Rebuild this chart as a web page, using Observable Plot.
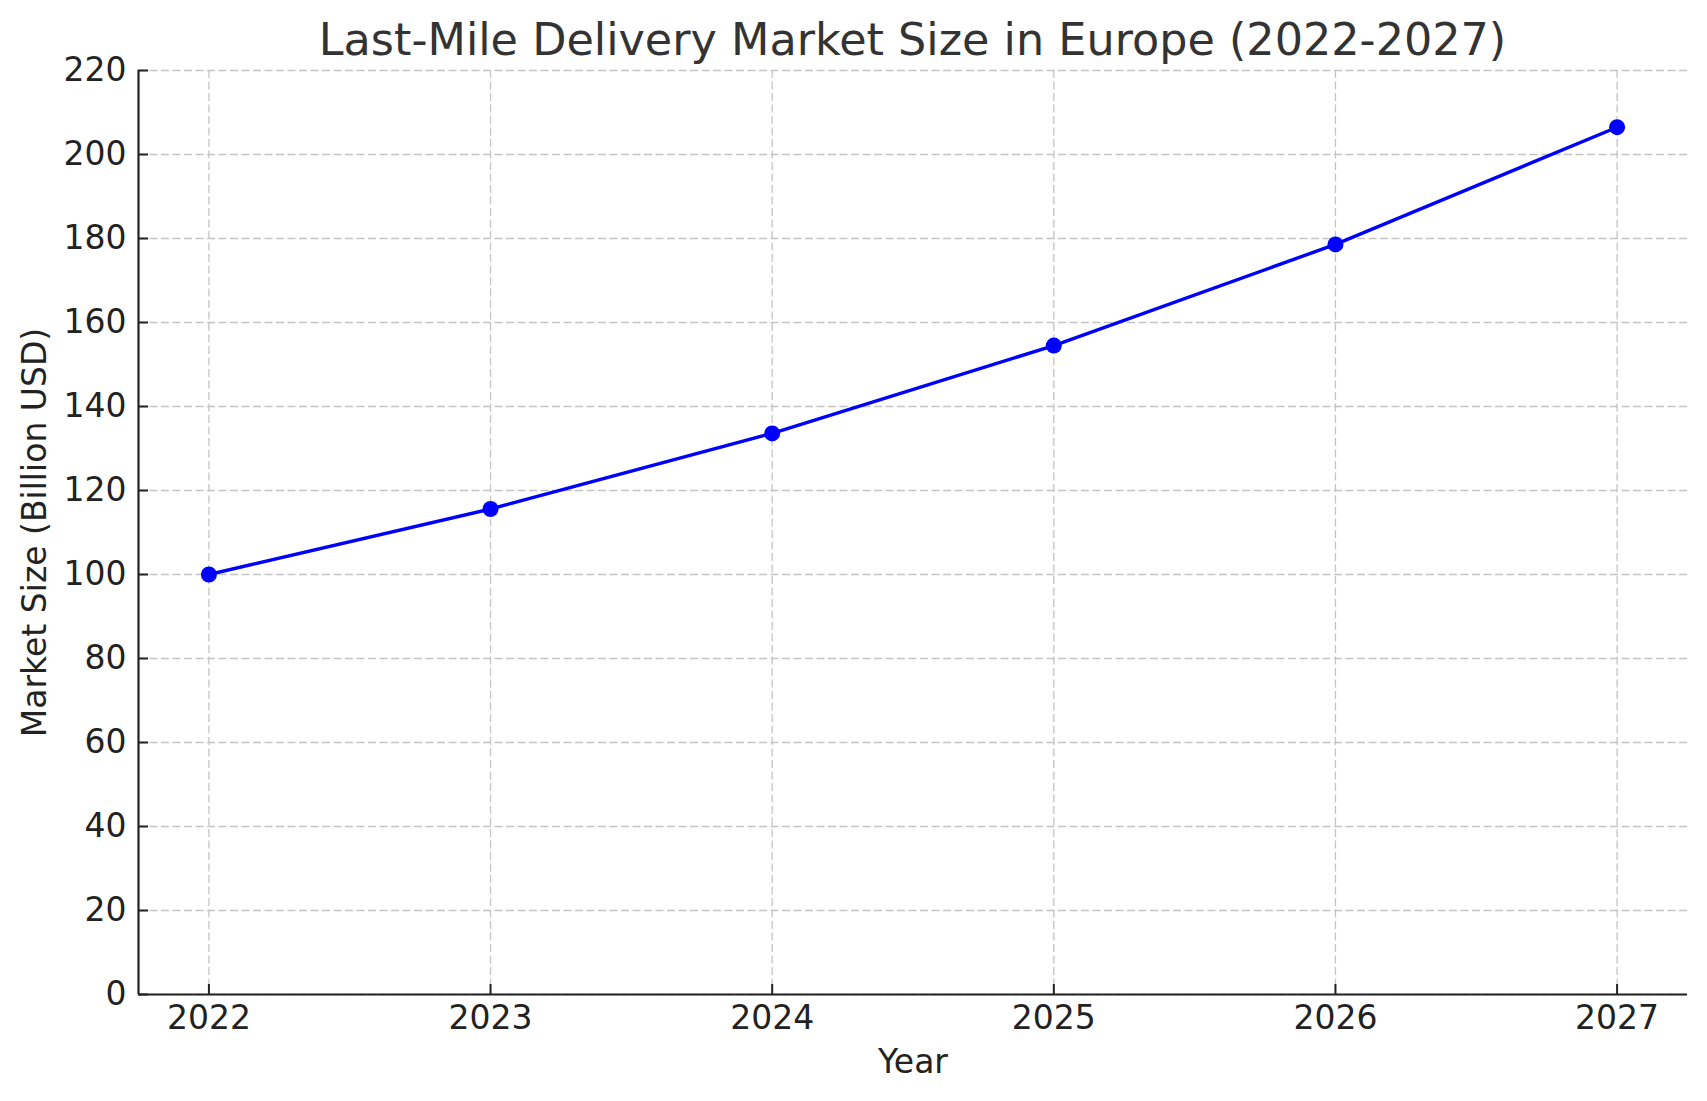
<!DOCTYPE html>
<html>
<head>
<meta charset="utf-8">
<script src="https://cdn.jsdelivr.net/npm/d3@7"></script>
<script src="https://cdn.jsdelivr.net/npm/@observablehq/plot@0.6"></script>
<style>
  html, body { margin: 0; padding: 0; background: #fff; }
  #title { box-sizing: border-box; width: 1707px; height: 50px; padding-left: 138px; padding-right: 20px;
    text-align: center; font-family: "DejaVu Sans", sans-serif; font-size: 44.5px; color: #333; line-height: 80px; overflow: visible; white-space: nowrap; }
</style>
</head>
<body>
<div id="title">Last-Mile Delivery Market Size in Europe (2022-2027)</div>
<div id="chart"></div>
<script>
const years = [2022, 2023, 2024, 2025, 2026, 2027];
const marketSize = [100, 115.6, 133.6, 154.5, 178.6, 206.5];
const yTicks = [0, 20, 40, 60, 80, 100, 120, 140, 160, 180, 200, 220];
const xLabel = "Year";
const yLabel = "Market Size (Billion USD)";

const data = years.map((y, i) => ({year: y, value: marketSize[i]}));
const xDomain = [years[0] - 0.25, years[years.length - 1] + 0.25];

const chart = Plot.plot({
  width: 1707,
  height: 1051,
  marginLeft: 138,
  marginRight: 20,
  marginTop: 20,
  marginBottom: 107,
  style: {fontFamily: "DejaVu Sans, sans-serif", fontSize: "33px", color: "#222", background: "#fff"},
  x: {domain: xDomain},
  y: {domain: [0, 220]},
  marks: [
    Plot.gridX(years, {stroke: "#c4c4c4", strokeOpacity: 1, strokeWidth: 1.3, strokeDasharray: "8,3.5"}),
    Plot.gridY(yTicks, {stroke: "#c4c4c4", strokeOpacity: 1, strokeWidth: 1.3, strokeDasharray: "8,3.5"}),
    Plot.axisX(years, {tickSize: -10, tickPadding: 21, tickFormat: d => String(d), label: null, fontSize: 33, strokeWidth: 2, stroke: "#222"}),
    Plot.axisY(yTicks, {tickSize: -10, tickPadding: 22, tickFormat: d => String(d), label: null, fontSize: 33, strokeWidth: 2, stroke: "#222"}),
    Plot.ruleY([0], {stroke: "#222", strokeWidth: 2.2}),
    Plot.ruleX([xDomain[0]], {stroke: "#222", strokeWidth: 2.2}),
    Plot.line(data, {x: "year", y: "value", stroke: "#0000ff", strokeWidth: 3.4}),
    Plot.dot(data, {x: "year", y: "value", r: 8, fill: "#0000ff", stroke: "none"}),
    Plot.text([xLabel], {frameAnchor: "bottom", dy: 68, lineAnchor: "middle", fontSize: 33, fill: "#222"}),
    Plot.text([yLabel], {frameAnchor: "left", dx: -103, rotate: -90, textAnchor: "middle", lineAnchor: "middle", fontSize: 33, fill: "#222"})
  ]
});
document.getElementById("chart").appendChild(chart);
</script>
</body>
</html>
